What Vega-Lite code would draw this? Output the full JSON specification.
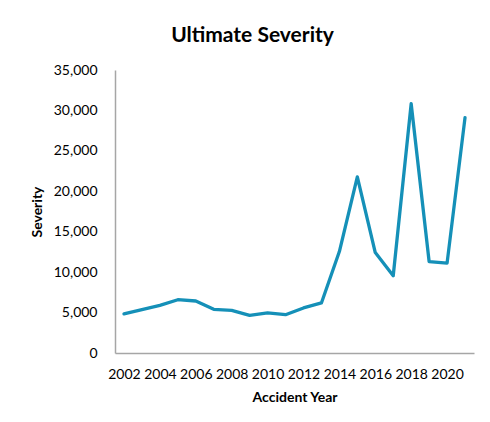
{
  "$schema": "https://vega.github.io/schema/vega-lite/v6.json",
  "autosize": "none",
  "width": 359,
  "height": 283,
  "padding": {"left": 115, "top": 70, "right": 16, "bottom": 69},
  "background": "white",
  "title": {
    "text": "Ultimate Severity",
    "font": "Lato",
    "fontSize": 21,
    "fontWeight": "bold",
    "color": "#000000",
    "anchor": "middle",
    "dx": -42,
    "offset": 17
  },
  "data": {
    "values": [
      {"year": 2002, "severity": 4830},
      {"year": 2003, "severity": 5360},
      {"year": 2004, "severity": 5890},
      {"year": 2005, "severity": 6590},
      {"year": 2006, "severity": 6430},
      {"year": 2007, "severity": 5400},
      {"year": 2008, "severity": 5280},
      {"year": 2009, "severity": 4660},
      {"year": 2010, "severity": 4950},
      {"year": 2011, "severity": 4740},
      {"year": 2012, "severity": 5570},
      {"year": 2013, "severity": 6190},
      {"year": 2014, "severity": 12550},
      {"year": 2015, "severity": 21790},
      {"year": 2016, "severity": 12420},
      {"year": 2017, "severity": 9550},
      {"year": 2018, "severity": 30830},
      {"year": 2019, "severity": 11310},
      {"year": 2020, "severity": 11110},
      {"year": 2021, "severity": 29110}
    ]
  },
  "mark": {
    "type": "line",
    "color": "#1590b8",
    "strokeWidth": 3.3,
    "strokeJoin": "round",
    "strokeCap": "round"
  },
  "encoding": {
    "x": {
      "field": "year",
      "type": "ordinal",
      "title": "Accident Year",
      "scale": {"padding": 0.5},
      "axis": {
        "values": [2002, 2004, 2006, 2008, 2010, 2012, 2014, 2016, 2018, 2020],
        "labelAngle": 0,
        "labelPadding": 14,
        "titlePadding": 9
      }
    },
    "y": {
      "field": "severity",
      "type": "quantitative",
      "title": "Severity",
      "scale": {"domain": [0, 35000], "nice": false},
      "axis": {
        "values": [0, 5000, 10000, 15000, 20000, 25000, 30000, 35000],
        "format": ",d",
        "labelPadding": 18,
        "titlePadding": 9
      }
    }
  },
  "config": {
    "view": {"stroke": null},
    "axis": {
      "grid": false,
      "ticks": false,
      "domainColor": "#a6a6a6",
      "domainWidth": 1.5,
      "labelFont": "Lato",
      "labelFontSize": 14,
      "labelColor": "#000000",
      "titleFont": "Lato",
      "titleFontSize": 14,
      "titleFontWeight": "bold",
      "titleColor": "#000000"
    }
  }
}
